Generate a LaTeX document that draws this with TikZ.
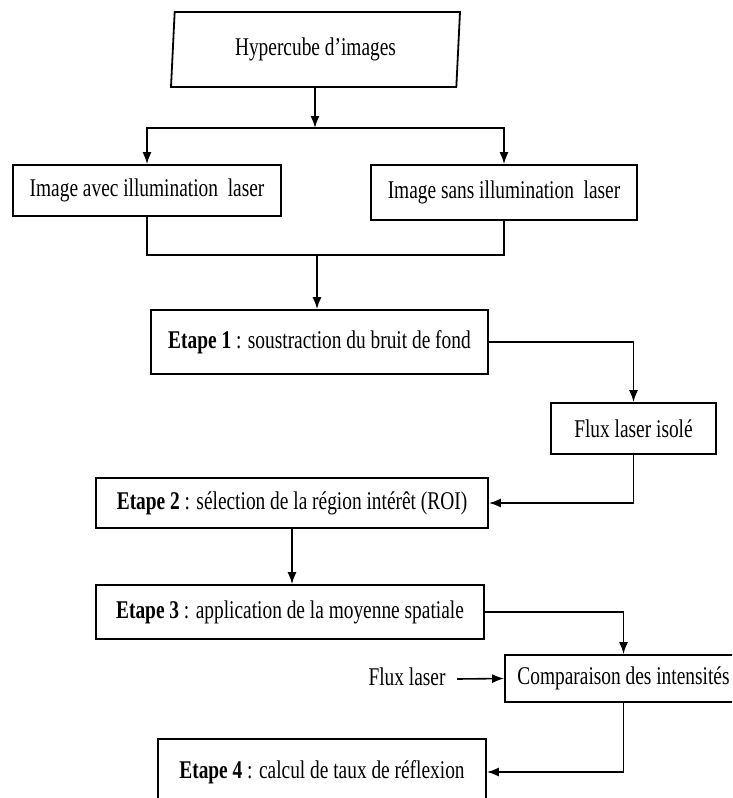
\documentclass[tikz,border=0pt]{standalone}
\usepackage{fontspec}
\setmainfont{Liberation Serif}[FakeStretch=0.76]
\usepackage{tikz}
\usetikzlibrary{shapes.geometric,arrows.meta,positioning,calc}

\begin{document}
\begin{tikzpicture}[
    x=1pt, y=-1pt,
    font=\fontsize{25.5}{30}\selectfont,
    box/.style={rectangle, draw, line width=1.8pt, inner sep=0pt},
    datain/.style={trapezium, trapezium left angle=81, trapezium right angle=99,
        trapezium stretches body, draw, line width=1.8pt, inner sep=0pt},
    line/.style={line width=1.6pt},
    arrow/.style={-{Latex[length=12pt,width=9pt]}, line width=1.6pt}
]
    \clip (0,0) rectangle (732,798);
    \node[datain, minimum width=289, minimum height=75] (hyper) at (315.5,49.5) {Hypercube d’images};

    % Two images
    \node[box, minimum width=268, minimum height=51] (imgA) at (147,190.5) {Image avec illumination\ \ laser};
    \node[box, minimum width=266, minimum height=55] (imgB) at (504,192.5) {Image sans illumination\ \ laser};

    % Steps
    \node[box, minimum width=337, minimum height=64] (etape1) at (319.5,342) {\textbf{Etape 1} : soustraction du bruit de fond};
    \node[box, minimum width=165, minimum height=51] (isole) at (633.5,428.5) {Flux laser isolé};
    \node[box, minimum width=392, minimum height=50] (etape2) at (292,503) {\textbf{Etape 2} : sélection de la région intérêt (ROI)};
    \node[box, minimum width=388, minimum height=54] (etape3) at (290,612) {\textbf{Etape 3} : application de la moyenne spatiale};
    \node[box, minimum width=237, minimum height=47] (comp) at (623.5,678.5) {Comparaison des intensités};
    \node (flux) at (407,677) {Flux laser};
    \node[box, minimum width=328, minimum height=66] (etape4) at (322,772) {\textbf{Etape 4} : calcul de taux de réflexion};

    \coordinate (split) at (315,128);
    \coordinate (merge) at (317,255);

    \draw[arrow] (hyper.south -| split) -- (split);
    \draw[arrow] (split) -| (imgA);
    \draw[arrow] (split) -| (imgB);
    \draw[line] (imgA) |- (merge) -| (imgB);
    \draw[arrow] (merge) -- (merge |- etape1.north);
    \draw[arrow] (etape1.east) -| (isole);
    \draw[arrow] (isole) |- (etape2.east);
    \draw[arrow] (etape2.south) -- (etape2.south |- etape3.north);
    \draw[arrow] (etape3.east) -| (comp);
    \draw[arrow] ($(flux.east)+(8,2)$) -- (comp.west);
    \draw[arrow] (comp) |- (etape4.east);
\end{tikzpicture}
\end{document}
